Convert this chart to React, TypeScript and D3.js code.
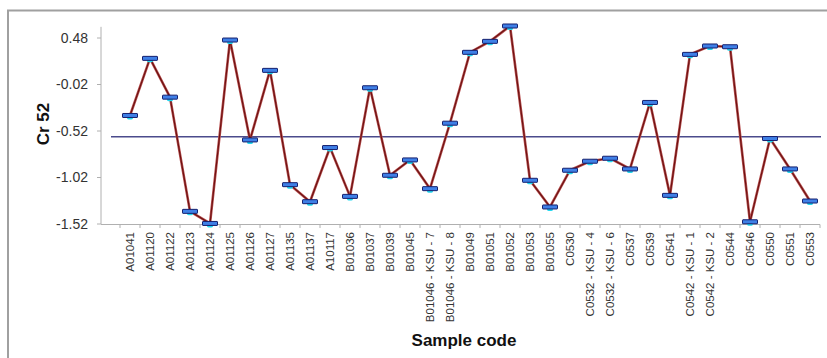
import React from "react";
import * as d3 from "d3";

const categories = [
  "A01041", "A01120", "A01122", "A01123", "A01124", "A01125", "A01126", "A01127",
  "A01135", "A01137", "A10117", "B01036", "B01037", "B01039", "B01045",
  "B01046 - KSU - 7", "B01046 - KSU - 8", "B01049", "B01051", "B01052", "B01053",
  "B01055", "C0530", "C0532 - KSU - 4", "C0532 - KSU - 6", "C0537", "C0539", "C0541",
  "C0542 - KSU - 1", "C0542 - KSU - 2", "C0544", "C0546", "C0550", "C0551", "C0553",
];

const values = [
  -0.353, 0.261, -0.156, -1.384, -1.514, 0.458, -0.616, 0.132,
  -1.097, -1.28, -0.698, -1.223, -0.055, -0.996, -0.831,
  -1.14, -0.436, 0.326, 0.444, 0.609, -1.05,
  -1.337, -0.942, -0.845, -0.813, -0.928, -0.213, -1.212,
  0.304, 0.394, 0.386, -1.496, -0.601, -0.928, -1.273,
];

const meanValue = [-0.582];
const yTicks = [0.48, -0.02, -0.52, -1.02, -1.52];

export default function App() {
  const W = 827, H = 358;
  const axisLeft = 101, plotRight = 820;
  const x = d3.scaleBand<string>().domain(categories).range([120, plotRight]);
  const y = d3.scaleLinear().domain([-1.52, 0.48]).range([224, 38]);
  const cx = (c: string) => (x(c) as number) + x.bandwidth() / 2;
  const line = d3.line<number>()
    .x((_, i) => cx(categories[i]))
    .y((v) => y(v));
  const bounds = [...categories.map((c) => x(c) as number), plotRight];
  const axisColor = "#b0b0b0";
  return (
    <svg width={W} height={H} style={{ position: "absolute", left: 0, top: 0, background: "#fff" }}
      fontFamily="Arial, 'Liberation Sans', sans-serif">
      <rect x={0} y={0} width={W} height={H} fill="#fff" />
      {/* frame */}
      <line x1={7} x2={W} y1={10.5} y2={10.5} stroke="#a0a0a0" strokeWidth={2} />
      <line x1={8} x2={8} y1={10} y2={H} stroke="#a0a0a0" strokeWidth={2} />
      {/* y axis */}
      <line x1={axisLeft} x2={axisLeft} y1={y(0.6)} y2={y(-1.52)} stroke={axisColor} strokeWidth={1} />
      {yTicks.map((t) => (
        <g key={t}>
          <line x1={axisLeft - 4} x2={axisLeft} y1={y(t)} y2={y(t)} stroke={axisColor} />
          <text x={88} y={y(t)} dy="0.35em" textAnchor="end" fontSize={14} fill="#333">
            {t.toFixed(2)}
          </text>
        </g>
      ))}
      {/* x axis */}
      <line x1={axisLeft} x2={plotRight} y1={224.5} y2={224.5} stroke={axisColor} />
      {bounds.map((b, i) => (
        <line key={i} x1={b} x2={b} y1={224.5} y2={228} stroke={axisColor} />
      ))}
      {categories.map((c) => (
        <text key={c} transform={`translate(${cx(c)},232) rotate(-90)`} textAnchor="end"
          dy="0.35em" fontSize={11.5} fill="#333">
          {c}
        </text>
      ))}
      {/* mean line */}
      {meanValue.map((m, i) => (
        <line key={i} x1={111} x2={821} y1={y(m)} y2={y(m)} stroke="#4b4b8c" strokeWidth={1.6} />
      ))}
      {/* series */}
      <path d={line(values) || ""} fill="none" stroke="#b85050" strokeWidth={2.6} strokeLinejoin="round" />
      <path d={line(values) || ""} fill="none" stroke="#6e1212" strokeWidth={1.2} strokeLinejoin="round" />
      {values.map((v, i) => {
        const px = cx(categories[i]);
        const py = y(v);
        return (
          <g key={i}>
            <ellipse cx={px} cy={py + 2.5} rx={3} ry={1.5} fill="#22d8f0" />
            <rect x={px - 7.5} y={py - 2} width={15} height={4} fill="#3f7fe6" stroke="#15206e" strokeWidth={1} rx={0.5} />
          </g>
        );
      })}
      {/* titles */}
      <text transform={`translate(49,124) rotate(-90)`} textAnchor="middle" fontSize={17}
        fontWeight="bold" fill="#111">Cr 52</text>
      <text x={464} y={346} textAnchor="middle" fontSize={17} fontWeight="bold" fill="#111">
        Sample code
      </text>
    </svg>
  );
}
